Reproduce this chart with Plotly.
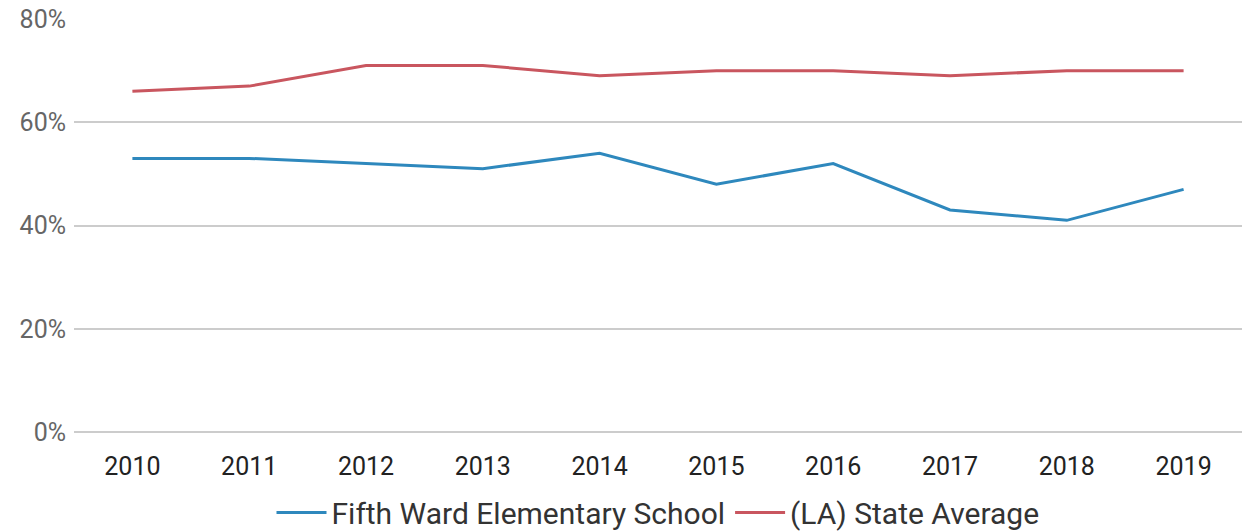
import plotly.graph_objects as go

years = ["2010", "2011", "2012", "2013", "2014", "2015", "2016", "2017", "2018", "2019"]
school = [53, 53, 52, 51, 54, 48, 52, 43, 41, 47]
state = [66, 67, 71, 71, 69, 70, 70, 69, 70, 70]
y_ticks = [0, 20, 40, 60, 80]
y_labels = ["0%", "20%", "40%", "60%", "80%"]

FONT = "Roboto, sans-serif"

fig = go.Figure()
fig.add_trace(go.Scatter(x=years, y=school, mode="lines", name="Fifth Ward Elementary School",
                         line=dict(color="#2e88bd", width=3)))
fig.add_trace(go.Scatter(x=years, y=state, mode="lines", name="(LA) State Average",
                         line=dict(color="#c9565f", width=3)))

fig.update_layout(
    width=1246, height=531,
    margin=dict(l=74, r=4, t=19, b=99, autoexpand=False),
    paper_bgcolor="white", plot_bgcolor="white",
    font=dict(family=FONT, size=24, color="#333"),
    showlegend=True,
    legend=dict(orientation="h", x=0.5, xanchor="center", y=-0.195, yanchor="middle",
                font=dict(family=FONT, size=30, color="#333"), itemwidth=50),
    xaxis=dict(type="category", range=[-0.5, 9.5], showgrid=False, zeroline=False, showline=False,
               ticks="outside", ticklen=12, tickcolor="rgba(0,0,0,0)",
               tickfont=dict(family=FONT, size=25, color="#222")),
    yaxis=dict(range=[0, 80], tickvals=y_ticks, ticktext=y_labels,
               showgrid=True, gridcolor="#cccccc", gridwidth=1.5,
               zeroline=True, zerolinecolor="#cccccc", zerolinewidth=1.5,
               ticks="outside", ticklen=2, tickcolor="rgba(0,0,0,0)",
               tickfont=dict(family=FONT, size=25, color="#666")),
)

fig.write_html("out.html")
